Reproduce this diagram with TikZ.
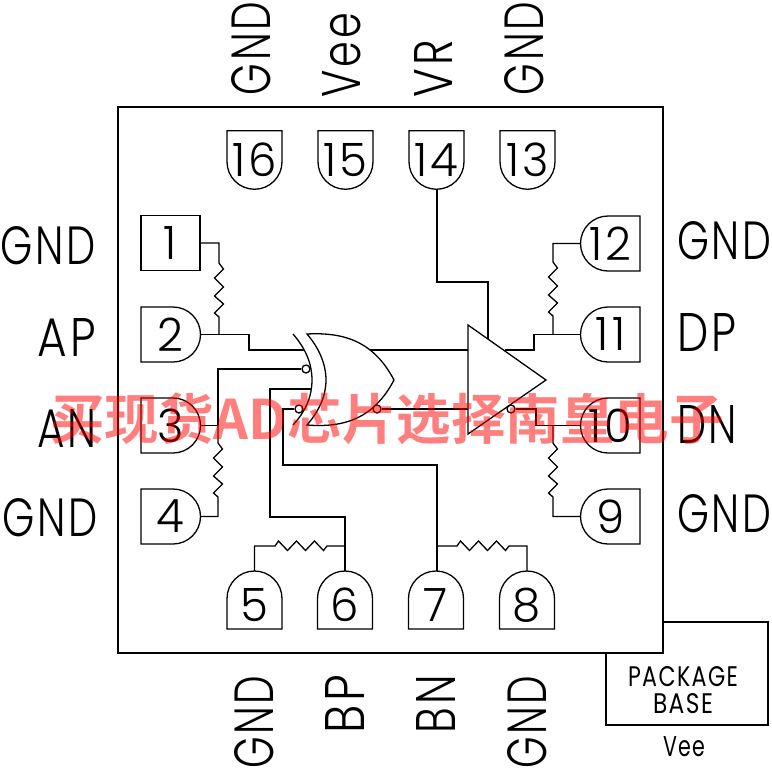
\documentclass[tikz,border=0pt]{standalone}
\usepackage{graphicx}
\usepackage{fontspec}
\setmainfont{Poppins}[UprightFont=* Light,FakeStretch=0.8,LetterSpace=5]
\newfontfamily\smallf{Poppins}[FakeStretch=0.8,LetterSpace=5]
\newfontfamily\digitf{Poppins}[UprightFont=* Light,FakeStretch=0.98,LetterSpace=7]
\newfontfamily\wm{Noto Sans CJK SC}[BoldFont=* Bold]
\tikzset{
  wire/.style={draw=black,line width=1.3pt,line join=miter},
  pinnode/.style={inner sep=0pt,outer sep=0pt,minimum width=55pt,minimum height=55pt,font=\digitf\fontsize{46}{46}\selectfont,text=black},
  siglabel/.style={inner sep=0pt,font=\fontsize{50}{50}\selectfont},
  baselabel/.style={inner sep=0pt,font=\smallf\fontsize{27}{27}\selectfont},
  bubble/.style={circle,draw=black,line width=1.3pt,fill=white,inner sep=0pt,minimum size=8pt},
  mark text/.style={inner sep=0pt,text=red,opacity=.5,font=\wm\bfseries\fontsize{54.5}{54.5}\selectfont}
}
\newcommand\sized[3]{\resizebox{#1pt}{#2pt}{#3}}
% rectangular pin
\newcommand\pinBox[4]{\node[pinnode,minimum width=59pt] (#1) at (#2,#3) {#4};
  \draw[wire] (#1.north west) rectangle (#1.south east);}
% round on the right
\newcommand\pinE[4]{\node[pinnode,minimum width=59pt] (#1) at (#2,#3) {#4};
  \draw[wire] (#1.north west) -- ++(32pt,0) arc[start angle=90,end angle=-90,radius=27.5pt] -- (#1.south west) -- cycle;}
% round on the left
\newcommand\pinW[4]{\node[pinnode,minimum width=59pt] (#1) at (#2,#3) {#4};
  \draw[wire] (#1.north east) -- ++(-32pt,0) arc[start angle=90,end angle=270,radius=27.5pt] -- (#1.south east) -- cycle;}
% round at the bottom
\newcommand\pinS[4]{\node[pinnode,minimum height=58.5pt] (#1) at (#2,#3) {#4};
  \draw[wire] (#1.north west) -- (#1.north east) -- ++(0,-31pt) arc[start angle=0,end angle=-180,radius=27.5pt] -- cycle;}
% round at the top
\newcommand\pinN[4]{\node[pinnode,minimum height=58pt,label={[pinnode,minimum height=0pt,minimum width=0pt,yshift=-5pt]center:#4}] (#1) at (#2,#3) {};
  \draw[wire] (#1.south west) -- (#1.south east) -- ++(0,30.5pt) arc[start angle=0,end angle=180,radius=27.5pt] -- cycle;}
% zigzags
\newcommand\vres[2]{ % x, top y
  -- (#1,#2) -- (#1+4.5,#2+6) -- (#1-4.5,#2+15) -- (#1+4.5,#2+24) -- (#1-4.5,#2+33) -- (#1+4.5,#2+41) -- (#1-4.5,#2+50) -- (#1,#2+54)}
\newcommand\hres[2]{ % left x, y
  -- (#1,#2) -- (#1+3.5,#2-5) -- (#1+12.5,#2+4.5) -- (#1+21.5,#2-5) -- (#1+30.5,#2+4.5) -- (#1+39.5,#2-5) -- (#1+48.5,#2+4.5) -- (#1+52,#2)}
\begin{document}
\begin{tikzpicture}[x=1pt,y=-1pt]
\useasboundingbox (0,0) rectangle (772,772);
% package
\draw[wire] (118,107) rectangle (663,653);
\draw[wire] (663,622) -- (768,622) -- (768,725) -- (606,725) -- (606,653);
% pins
\pinBox{p1}{170.5}{243}{1}
\pinE{p2}{170.5}{334.5}{2}
\pinE{p3}{170.5}{425.5}{3}
\pinE{p4}{170.5}{516.5}{4}
\pinW{p12}{610.5}{243.5}{12}
\pinW{p11}{610.5}{334.5}{11}
\pinW{p10}{610.5}{425.5}{10}
\pinW{p9}{610.5}{516.5}{9}
\pinS{p16}{254.5}{160}{16}
\pinS{p15}{345.5}{160}{15}
\pinS{p14}{436.5}{160}{14}
\pinS{p13}{527.5}{160}{13}
\pinN{p5}{254.5}{600}{5}
\pinN{p6}{345}{600}{6}
\pinN{p7}{436}{600}{7}
\pinN{p8}{527}{600}{8}
% gates
\coordinate (xa) at (307,334);
\coordinate (xb) at (307,425);
\coordinate (xtip) at (394,380);
\draw[wire] (293,334) .. controls (306,349) and (312,364) .. (312,380) .. controls (312,396) and (306,411) .. (293,425);
\draw[wire,fill=white] (xa) .. controls (319,348) and (326,364) .. (326,380) .. controls (326,396) and (319,411) .. (xb)
  .. controls (345,428) and (374,418) .. (xtip) .. controls (374,342) and (345,332) .. (xa) -- cycle;
\coordinate (in1) at (304,350);
\coordinate (xo1) at (370,350);
\node[bubble] (bi2) at (306,369) {};
\node[bubble] (bi4) at (299,409) {};
\node[bubble] (bo) at (377,409) {};
\coordinate (ta) at (468,325);
\coordinate (tb) at (468,434);
\coordinate (ttip) at (546,380);
\draw[wire] (ta) -- (ttip) -- (tb) -- cycle;
\coordinate (ti1) at (468,350);
\coordinate (ti2) at (468,409);
\coordinate (ten) at (488,339);
\coordinate (to1) at (505,350);
\node[bubble,fill=none] (tbub) at (511,409) {};
% connectors
\coordinate (j2) at (219,334.5);
\draw[wire] (p1.east) -- (219,243) \vres{219}{263} -- (j2);
\draw[wire] (p2.east) -- (j2) -- (249,334.5) -- (249,350) -- (in1);
\draw[wire] (p3.east) -- (218,425.5) -- (218,369) -- (bi2);
\draw[wire] (218,425.5) \vres{218}{443} -- (218,516.5) -- (p4.east);
\draw[wire] (311,389) -- (270,389) -- (270,517) -- (345,517) -- (p6.north);
\draw[wire] (bi4) -- (283,409) -- (283,465) -- (437,465) -- (p7.north -| 437,0);
\draw[wire] (p5.north) -- (254.5,546) \hres{275}{546} -- (345,546);
\draw[wire] (437,546) \hres{457}{546} -- (527,546) -- (p8.north);
\draw[wire] (xo1) -- (ti1);
\draw[wire] (bo) -- (ti2);
\draw[wire] (p14.south -| 437,0) -- (437,282) -- (488,282) -- (ten);
\draw[wire] (to1) -- (534,350) -- (534,334.5) -- (p11.west);
\draw[wire] (tbub) -- (536,409) -- (536,425.5) -- (p10.west);
\draw[wire] (p12.west) -- (553,243.5) \vres{553}{262} -- (553,334.5);
\draw[wire] (553,425.5) \vres{553}{443} -- (553,516.5) -- (p9.west);
% signal labels
\node[siglabel] (lgnd1) at (48.5,246) {\sized{95}{38}{GND}};
\node[siglabel] (lap) at (67,337) {\sized{58}{38}{AP}};
\node[siglabel] (lan) at (66.5,428) {\sized{59}{38}{AN}};
\node[siglabel] (lgnd4) at (50.5,518) {\sized{95}{38}{GND}};
\node[siglabel] (lgnd12) at (724,241) {\sized{94}{38}{GND}};
\node[siglabel] (ldp) at (706.5,332) {\sized{59}{38}{DP}};
\node[siglabel] (ldn) at (707,424) {\sized{60}{38}{DN}};
\node[siglabel] (lgnd9) at (724,514) {\sized{94}{38}{GND}};
\node[siglabel,rotate=90] (lgnd16) at (251.5,48.5) {\sized{93}{39}{GND}};
\node[siglabel,rotate=90] (lvee) at (342,55) {\sized{84}{38}{Vee}};
\node[siglabel,rotate=90] (lvr) at (433,68.5) {\sized{57}{38}{VR}};
\node[siglabel,rotate=90] (lgnd13) at (524,48.5) {\sized{93}{39}{GND}};
\node[siglabel,rotate=90] (lgnd5) at (254,722) {\sized{93}{39}{GND}};
\node[siglabel,rotate=90] (lbp) at (345,704) {\sized{58}{39}{BP}};
\node[siglabel,rotate=90] (lbn) at (436,704) {\sized{58}{39}{BN}};
\node[siglabel,rotate=90] (lgnd8) at (527,722) {\sized{93}{39}{GND}};
\node[baselabel] (lpk) at (683,677) {\sized{110}{20}{PACKAGE}};
\node[baselabel] (lbs) at (683,704) {\sized{60}{20}{BASE}};
\node[baselabel] (lve) at (684,747) {\sized{42}{20}{Vee}};
\node[mark text] (wmk) at (387,419) {买现货AD芯片选择南皇电子};
\end{tikzpicture}
\end{document}
